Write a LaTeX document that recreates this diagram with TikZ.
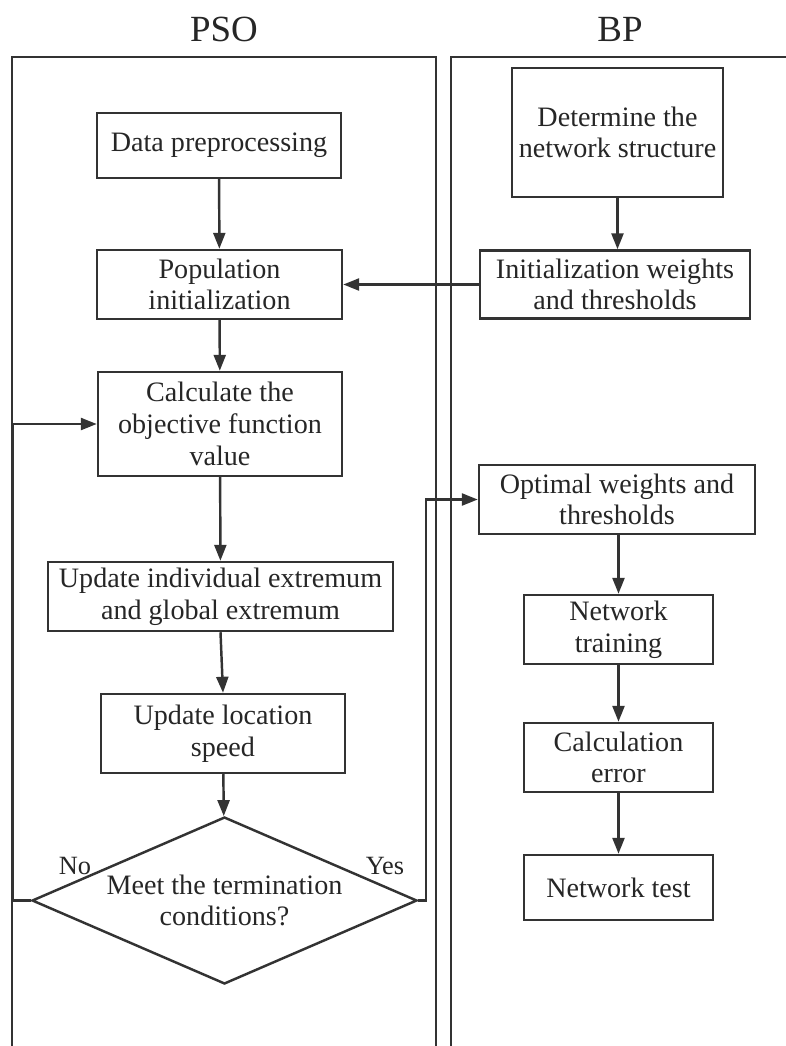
\documentclass[tikz,border=0pt]{standalone}
\usepackage{fontspec}
\setmainfont{Liberation Serif}
\usetikzlibrary{arrows.meta,shapes.geometric}
\tikzset{
  ln/.style={line width=1.4pt, draw=black!80},
  arr/.style={ln, -{Triangle[length=0.32cm,width=0.24cm]}},
  box/.style={ln, rectangle, inner sep=0pt, align=center, text=black!85,
    font=\fontsize{16}{18}\selectfont},
  lbl/.style={text=black!85, font=\fontsize{15}{17}\selectfont, inner sep=0pt},
  ttl/.style={text=black!85, font=\fontsize{21}{24}\selectfont, inner sep=0pt, anchor=base}
}
\begin{document}
\begin{tikzpicture}[x=0.02cm,y=-0.02cm]
\useasboundingbox (0,0) rectangle (786,1046);
% titles
\node[ttl] (tpso) at (224,41) {PSO};
\node[ttl] (tbp) at (620,41) {BP};
% panels
\draw[ln] (12,1046) -- (12,57) -- (436,57) -- (436,1046);
\draw[ln] (451,1046) -- (451,57) -- (786,57);
% PSO column
\node[box, minimum width=244*0.02cm, minimum height=65*0.02cm] (data) at (219,145.5) {Data preprocessing};
\node[box, minimum width=245*0.02cm, minimum height=69*0.02cm] (pop) at (219.5,284.5) {Population\\initialization};
\node[box, minimum width=244*0.02cm, minimum height=104*0.02cm] (calc) at (220,424) {Calculate the\\objective function\\value};
\node[box, minimum width=345*0.02cm, minimum height=69*0.02cm] (upd) at (220.5,596.5) {Update individual extremum\\and global extremum};
\node[box, minimum width=244*0.02cm, minimum height=79*0.02cm] (loc) at (223,733.5) {Update location\\speed};
\node[box, shape=diamond, aspect=2.3, minimum width=385*0.02cm, minimum height=167*0.02cm] (dia) at (224.5,900.5) {Meet the termination\\conditions?};
% BP column
\node[box, minimum width=211*0.02cm, minimum height=129*0.02cm] (det) at (617.5,132.5) {Determine the\\network structure};
\node[box, minimum width=270*0.02cm, minimum height=68*0.02cm] (init) at (615,284.5) {Initialization weights\\and thresholds};
\node[box, minimum width=276*0.02cm, minimum height=69*0.02cm] (opt) at (617,499.5) {Optimal weights and\\thresholds};
\node[box, minimum width=189*0.02cm, minimum height=69*0.02cm] (train) at (618.5,629.5) {Network\\training};
\node[box, minimum width=189*0.02cm, minimum height=69*0.02cm] (err) at (618.5,757.5) {Calculation\\error};
\node[box, minimum width=189*0.02cm, minimum height=65*0.02cm] (test) at (618.5,887.5) {Network test};
% labels
\node[lbl] (no) at (75,866) {No};
\node[lbl] (yes) at (385,866) {Yes};
% connectors
\draw[arr] (data) -- (pop);
\draw[arr] (pop) -- (calc);
\draw[arr] (calc) -- (upd);
\draw[arr] (upd.south) -- (loc.north);
\draw[arr] (loc) -- (dia);
\draw[arr] (dia.west) -- ++(-18,0) |- (calc.west);
\draw[arr] (dia.east) -- ++(7.5,0) |- (opt.west);
\draw[arr] (det) -- (det |- init.north);
\draw[arr] (init) -- (pop);
\draw[arr] (opt.south -| train) -- (train);
\draw[arr] (train) -- (err);
\draw[arr] (err) -- (test);
\end{tikzpicture}
\end{document}
